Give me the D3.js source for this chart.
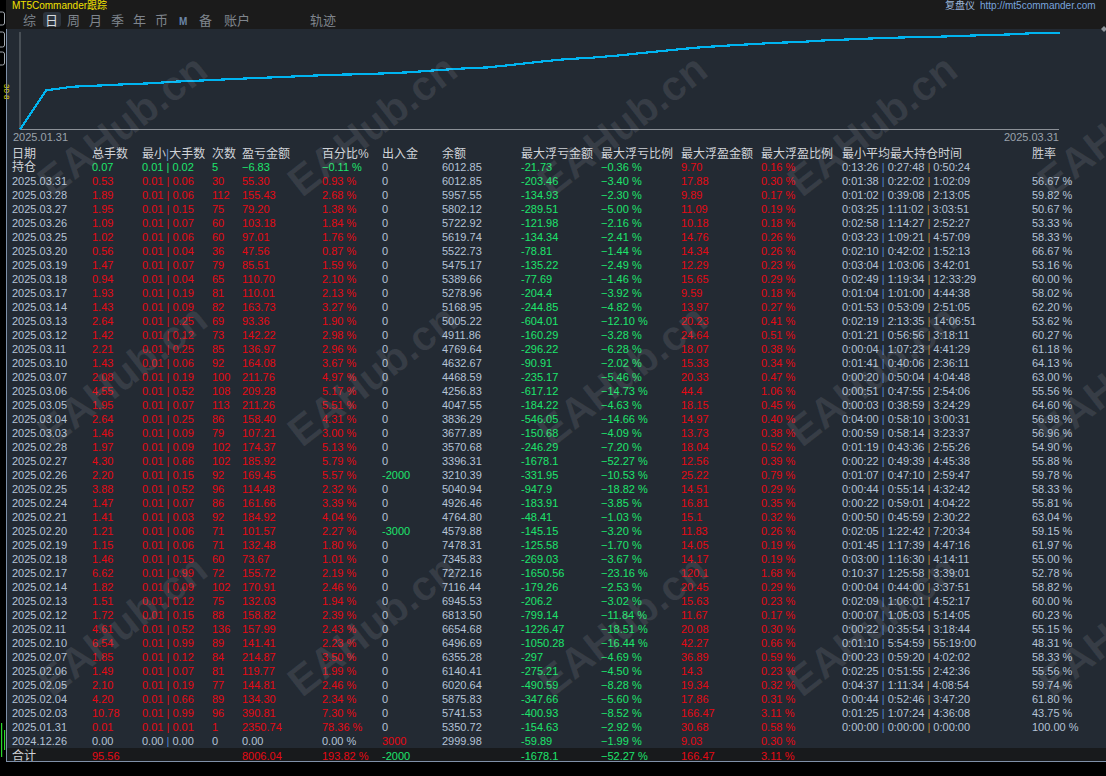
<!DOCTYPE html>
<html>
<head>
<meta charset="utf-8">
<script src="https://cdn.jsdelivr.net/npm/d3@7"></script>
<style>
  body { margin: 0; background: #000; }
  svg { display: block; }
</style>
</head>
<body>
<script>
// ===== daily rows, newest first (as shown in the table) =====
var dates = ["2025.03.31","2025.03.28","2025.03.27","2025.03.26","2025.03.25","2025.03.20","2025.03.19","2025.03.18","2025.03.17","2025.03.14",
             "2025.03.13","2025.03.12","2025.03.11","2025.03.10","2025.03.07","2025.03.06","2025.03.05","2025.03.04","2025.03.03","2025.02.28",
             "2025.02.27","2025.02.26","2025.02.25","2025.02.24","2025.02.21","2025.02.20","2025.02.19","2025.02.18","2025.02.17","2025.02.14",
             "2025.02.13","2025.02.12","2025.02.11","2025.02.10","2025.02.07","2025.02.06","2025.02.05","2025.02.04","2025.02.03","2025.01.31","2024.12.26"];
var lots = [0.53,1.89,1.95,1.09,1.02,0.56,1.47,0.94,1.93,1.43,2.64,1.42,2.21,1.43,2.08,4.55,1.95,2.64,1.46,1.97,
            4.30,2.20,3.88,1.47,1.41,1.21,1.15,1.46,6.62,1.82,1.51,1.72,4.61,6.54,1.85,1.49,2.10,4.20,10.78,0.01,0.00];
var minLot = [0.01,0.01,0.01,0.01,0.01,0.01,0.01,0.01,0.01,0.01,0.01,0.01,0.01,0.01,0.01,0.01,0.01,0.01,0.01,0.01,
              0.01,0.01,0.01,0.01,0.01,0.01,0.01,0.01,0.01,0.01,0.01,0.01,0.01,0.01,0.01,0.01,0.01,0.01,0.01,0.01,0.00];
var maxLot = [0.06,0.06,0.15,0.07,0.06,0.04,0.07,0.04,0.19,0.09,0.25,0.12,0.25,0.06,0.19,0.52,0.07,0.25,0.09,0.09,
              0.66,0.15,0.52,0.07,0.03,0.06,0.06,0.15,0.99,0.09,0.12,0.15,0.52,0.99,0.12,0.07,0.19,0.66,0.99,0.01,0.00];
var trades = [30,112,75,60,60,36,79,65,81,82,69,73,85,92,100,108,113,86,79,102,
              102,92,96,86,92,71,71,60,72,102,75,88,136,89,84,81,77,89,96,1,0];
var profit = [55.30,155.43,79.20,103.18,97.01,47.56,85.51,110.70,110.01,163.73,93.36,142.22,136.97,164.08,211.76,209.28,211.26,158.40,107.21,174.37,
              185.92,169.45,114.48,161.66,184.92,101.57,132.48,73.67,155.72,170.91,132.03,158.82,157.99,141.41,214.87,119.77,144.81,134.30,390.81,2350.74,0.00];
var pct = [0.93,2.68,1.38,1.84,1.76,0.87,1.59,2.10,2.13,3.27,1.90,2.98,2.96,3.67,4.97,5.17,5.51,4.31,3.00,5.13,
           5.79,5.57,2.32,3.39,4.04,2.27,1.80,1.01,2.19,2.46,1.94,2.39,2.43,2.23,3.50,1.99,2.46,2.34,7.30,78.36,0.00];
var flow = [0,0,0,0,0,0,0,0,0,0,0,0,0,0,0,0,0,0,0,0,
            0,-2000,0,0,0,-3000,0,0,0,0,0,0,0,0,0,0,0,0,0,0,3000];
var balance = [6012.85,5957.55,5802.12,5722.92,5619.74,5522.73,5475.17,5389.66,5278.96,5168.95,5005.22,4911.86,4769.64,4632.67,4468.59,4256.83,4047.55,3836.29,3677.89,3570.68,
               3396.31,3210.39,5040.94,4926.46,4764.80,4579.88,7478.31,7345.83,7272.16,7116.44,6945.53,6813.50,6654.68,6496.69,6355.28,6140.41,6020.64,5875.83,5741.53,5350.72,2999.98];
var maxLoss = ["-203.46","-134.93","-289.51","-121.98","-134.34","-78.81","-135.22","-77.69","-204.4","-244.85","-604.01","-160.29","-296.22","-90.91","-235.17","-617.12","-184.22","-546.05","-150.68","-246.29",
               "-1678.1","-331.95","-947.9","-183.91","-48.41","-145.15","-125.58","-269.03","-1650.56","-179.26","-206.2","-799.14","-1226.47","-1050.28","-297","-275.21","-490.59","-347.66","-400.93","-154.63","-59.89"];
var maxLossPct = [-3.40,-2.30,-5.00,-2.16,-2.41,-1.44,-2.49,-1.46,-3.92,-4.82,-12.10,-3.28,-6.28,-2.02,-5.46,-14.73,-4.63,-14.66,-4.09,-7.20,
                  -52.27,-10.53,-18.82,-3.85,-1.03,-3.20,-1.70,-3.67,-23.16,-2.53,-3.02,-11.84,-18.51,-16.44,-4.69,-4.50,-8.28,-5.60,-8.52,-2.92,-1.99];
var maxGain = ["17.88","9.89","11.09","10.18","14.76","14.34","12.29","15.65","9.59","13.97","20.23","24.64","18.07","15.33","20.33","44.4","18.15","14.97","13.73","18.04",
               "12.56","25.22","14.51","16.81","15.1","11.83","14.05","14.17","120.1","20.45","15.63","11.67","20.08","42.27","36.89","14.3","19.34","17.86","166.47","30.68","9.03"];
var maxGainPct = [0.30,0.17,0.19,0.18,0.26,0.26,0.23,0.29,0.18,0.27,0.41,0.51,0.38,0.34,0.47,1.06,0.45,0.40,0.38,0.52,
                  0.39,0.79,0.29,0.35,0.32,0.26,0.19,0.19,1.68,0.29,0.23,0.17,0.30,0.66,0.59,0.23,0.32,0.31,3.11,0.58,0.30];
var holdMin = ["0:01:38","0:01:02","0:03:25","0:02:58","0:03:23","0:02:10","0:03:04","0:02:49","0:01:04","0:01:53","0:02:19","0:01:21","0:00:04","0:01:41","0:00:20","0:00:51","0:00:03","0:04:00","0:00:59","0:01:19",
               "0:00:22","0:01:07","0:00:44","0:00:22","0:00:50","0:02:05","0:01:45","0:03:00","0:10:37","0:00:04","0:02:09","0:00:07","0:00:22","0:01:10","0:00:23","0:02:25","0:04:37","0:00:44","0:01:25","0:00:00",""];
var holdAvg = ["0:22:02","0:39:08","1:11:02","1:14:27","1:09:21","0:42:02","1:03:06","1:19:34","1:01:00","0:53:09","2:13:35","0:56:56","1:07:23","0:40:06","0:50:04","0:47:55","0:38:59","0:58:10","0:58:14","0:43:36",
               "0:49:39","0:47:10","0:55:14","0:59:01","0:45:59","1:22:42","1:17:39","1:16:30","1:25:58","0:44:00","1:06:01","1:05:03","0:35:54","5:54:59","0:59:20","0:51:55","1:11:34","0:52:46","1:07:24","0:00:00",""];
var holdMax = ["1:02:09","2:13:05","3:03:51","2:52:27","4:57:09","1:52:13","3:42:01","12:33:29","4:44:38","2:51:05","14:06:51","3:18:11","4:41:29","2:36:11","4:04:48","2:54:06","3:24:29","3:00:31","3:23:37","2:55:26",
               "4:45:38","2:59:47","4:32:42","4:04:22","2:30:22","7:20:34","4:47:16","4:14:11","3:39:01","3:37:51","4:52:17","5:14:05","3:18:44","55:19:00","4:02:02","2:42:36","4:08:54","3:47:20","4:36:08","0:00:00",""];
var winRate = [56.67,59.82,50.67,53.33,58.33,66.67,53.16,60.00,58.02,62.20,53.62,60.27,61.18,64.13,63.00,55.56,64.60,56.98,56.96,54.90,
               55.88,59.78,58.33,55.81,63.04,59.15,61.97,55.00,52.78,58.82,60.00,60.23,55.15,48.31,58.33,55.56,59.74,61.80,43.75,100.00,null];

// open positions row (持仓) and totals row (合计)
var openRow = {lots: 0.07, minLot: 0.01, maxLot: 0.02, trades: 5, profit: -6.83, pct: -0.11, flow: 0, balance: 6012.85,
               maxLoss: "-21.73", maxLossPct: -0.36, maxGain: "9.70", maxGainPct: 0.16, hold: ["0:13:26","0:27:48","0:50:24"]};
var totalRow = {lots: 95.56, profit: 8006.04, pct: 193.82, flow: -2000, maxLoss: "-1678.1", maxLossPct: -52.27, maxGain: "166.47", maxGainPct: 3.11};

var headers = ["日期","总手数","最小|大手数","次数","盈亏金额","百分比%","出入金","余额","最大浮亏金额","最大浮亏比例","最大浮盈金额","最大浮盈比例","最小平均最大持仓时间","胜率"];
var tabs = ["综","日","周","月","季","年","币","M","备","账户","轨迹"];
var axisDates = ["2025.01.31","2025.03.31"];

// ===== page =====
var W = 1106, H = 776;
var RED = "#e50914", GREEN = "#1de46c", GREY = "#b4c2d6", HEAD = "#d0d3d8";
var BAR_BLUE = "#4f86d2", BAR_ORANGE = "#bd8535";
var f2 = d3.format(".2f");

var svg = d3.select("body").append("svg")
            .attr("width", W)
            .attr("height", H)
            .attr("font-family", "'Liberation Sans', Arial, 'Noto Sans CJK SC', sans-serif");

svg.append("rect").attr("width", W).attr("height", H).attr("fill", "#000");
// top bar
svg.append("rect").attr("x", 6).attr("y", 0).attr("width", W - 6).attr("height", 29).attr("fill", "#1b1b1b");
// panel
svg.append("rect").attr("x", 7).attr("y", 29).attr("width", W - 7).attr("height", 733).attr("fill", "#232a33");

// title bits in the top bar
svg.append("text").attr("x", 12).attr("y", 9).attr("font-size", "10px").attr("fill", "#f2e200").text("MT5Commander跟踪");
svg.append("text").attr("x", 945).attr("y", 9).attr("font-size", "10px").attr("fill", "#9cb6d8").text("复盘仪");
svg.append("text").attr("x", 980).attr("y", 9).attr("font-size", "10px").attr("fill", "#78a4de").text("http://mt5commander.com");

// left strip artefacts
[[12, 13], [32, 15], [52, 13]].forEach(function(b) {
  svg.append("rect").attr("x", -3).attr("y", b[0]).attr("width", 7.5).attr("height", b[1])
     .attr("rx", 2).attr("fill", "none").attr("stroke", "#a3a9b0").attr("stroke-width", 1);
});
svg.append("text").attr("transform", "translate(4,84) rotate(90)").attr("font-size", "8px").attr("fill", "#f2e200").text("30 8");
svg.append("rect").attr("x", 1).attr("y", 723).attr("width", 1.2).attr("height", 34).attr("fill", "#2bd82b");
svg.append("rect").attr("x", 4).attr("y", 730).attr("width", 1.2).attr("height", 20).attr("fill", "#2bd82b");

// tabs
var tabX = [23, 45, 67, 89, 111, 133, 155, 179, 199, 224, 310];
svg.append("rect").attr("x", 43).attr("y", 12).attr("width", 18).attr("height", 15).attr("rx", 3).attr("fill", "#2d343d");
svg.selectAll("text.tab")
   .data(tabs)
   .enter()
   .append("text")
   .attr("class", "tab")
   .attr("x", function(d, i) { return tabX[i]; })
   .attr("y", 25)
   .attr("font-size", function(d) { return d == "M" ? "10px" : "13px"; })
   .attr("font-weight", function(d) { return d == "M" ? "bold" : "normal"; })
   .attr("fill", function(d, i) { return i == 1 ? "#d6dade" : (d == "M" ? "#6c86a8" : "#7f858d"); })
   .text(function(d) { return d; });

// ===== curve: cumulative percentage, oldest first =====
var cumPct = d3.cumsum(pct.slice().reverse());
var x = d3.scaleLinear().domain([0, cumPct.length - 1]).range([20, 1060]);
var y = d3.scaleLinear().domain([0, d3.max(cumPct)]).range([129.5, 32.7]);

svg.append("line").attr("x1", 20).attr("x2", 20).attr("y1", 32).attr("y2", 129.5)
   .attr("stroke", "#6e747b").attr("stroke-width", 1);
svg.append("line").attr("x1", 20).attr("x2", 1059).attr("y1", 129.5).attr("y2", 129.5)
   .attr("stroke", "#8b9097").attr("stroke-width", 1);

var line = d3.line()
             .x(function(d, i) { return x(i); })
             .y(function(d) { return y(d); });

svg.append("path")
   .datum(cumPct)
   .attr("d", line)
   .attr("fill", "none")
   .attr("stroke", "#00b4f0")
   .attr("stroke-width", 2.2)
   .attr("shape-rendering", "crispEdges");

svg.append("text").attr("x", 13).attr("y", 141).attr("font-size", "11px").attr("fill", "#9aa2ab").text(axisDates[0]);
svg.append("text").attr("x", 1059).attr("y", 141).attr("text-anchor", "end").attr("font-size", "11px").attr("fill", "#9aa2ab").text(axisDates[1]);
svg.append("path").attr("d", "M1101,29 L1104,26 L1107,29 L1104,32 Z").attr("fill", "#8d939a");

// ===== table =====
var colX = [12, 92, 142, 212, 242, 322, 382, 442, 521, 601, 681, 761, 842, 1032];
var rowY = d3.scaleLinear().domain([0, dates.length - 1]).range([181.3, 741.3]);
var headY = 154, openY = 167.3, totalY = 756;

// totals band
svg.append("rect").attr("x", 7).attr("y", 748).attr("width", W - 7).attr("height", 13.5).attr("fill", "#181a1c");

function cell(col, cy, segs, size) {
  var t = svg.append("text")
             .attr("x", colX[col])
             .attr("y", cy + 4)
             .attr("font-size", size || "11px");
  segs.forEach(function(s) {
    t.append("tspan").attr("fill", s[1]).text(s[0]);
  });
}

function sep(a, b, c, barColor) {
  return [[a + " ", c], ["|", barColor], [" " + b, c]];
}

function times(h) {
  return [[h[0] + " ", GREY], ["|", BAR_BLUE], [" " + h[1] + " ", GREY], ["|", BAR_ORANGE], [" " + h[2], GREY]];
}

function flowColor(v) { return v < 0 ? GREEN : (v > 0 ? RED : GREY); }

// header
headers.forEach(function(h, i) {
  if (h.indexOf("|") >= 0) {
    var parts = h.split("|");
    cell(i, headY, [[parts[0], HEAD], ["|", "#5f93d8"], [parts[1], HEAD]], "12px");
  } else {
    cell(i, headY, [[h, HEAD]], "12px");
  }
});

// open positions
(function() {
  var o = openRow, c = o.profit < 0 ? GREEN : RED;
  cell(0, openY, [["持仓", HEAD]], "12px");
  cell(1, openY, [[f2(o.lots), c]]);
  cell(2, openY, sep(f2(o.minLot), f2(o.maxLot), c, c));
  cell(3, openY, [[String(o.trades), c]]);
  cell(4, openY, [[f2(o.profit), c]]);
  cell(5, openY, [[f2(o.pct) + " %", c]]);
  cell(6, openY, [[String(o.flow), flowColor(o.flow)]]);
  cell(7, openY, [[f2(o.balance), GREY]]);
  cell(8, openY, [[o.maxLoss, GREEN]]);
  cell(9, openY, [[f2(o.maxLossPct) + " %", GREEN]]);
  cell(10, openY, [[o.maxGain, RED]]);
  cell(11, openY, [[f2(o.maxGainPct) + " %", RED]]);
  cell(12, openY, times(o.hold));
})();

// daily rows
dates.forEach(function(d, i) {
  var cy = rowY(i);
  var c = profit[i] > 0 ? RED : (profit[i] < 0 ? GREEN : GREY);
  cell(0, cy, [[d, GREY]]);
  cell(1, cy, [[f2(lots[i]), c]]);
  cell(2, cy, sep(f2(minLot[i]), f2(maxLot[i]), c, c == GREY ? BAR_BLUE : c));
  cell(3, cy, [[String(trades[i]), c]]);
  cell(4, cy, [[f2(profit[i]), c]]);
  cell(5, cy, [[f2(pct[i]) + " %", c]]);
  cell(6, cy, [[String(flow[i]), flowColor(flow[i])]]);
  cell(7, cy, [[f2(balance[i]), GREY]]);
  cell(8, cy, [[maxLoss[i], GREEN]]);
  cell(9, cy, [[f2(maxLossPct[i]) + " %", GREEN]]);
  cell(10, cy, [[maxGain[i], RED]]);
  cell(11, cy, [[f2(maxGainPct[i]) + " %", RED]]);
  if (holdMin[i]) cell(12, cy, times([holdMin[i], holdAvg[i], holdMax[i]]));
  if (winRate[i] != null) cell(13, cy, [[f2(winRate[i]) + " %", GREY]]);
});

// totals
cell(0, totalY, [["合计", HEAD]], "12px");
cell(1, totalY, [[f2(totalRow.lots), RED]]);
cell(4, totalY, [[f2(totalRow.profit), RED]]);
cell(5, totalY, [[f2(totalRow.pct) + " %", RED]]);
cell(6, totalY, [[String(totalRow.flow), flowColor(totalRow.flow)]]);
cell(8, totalY, [[totalRow.maxLoss, GREEN]]);
cell(9, totalY, [[f2(totalRow.maxLossPct) + " %", GREEN]]);
cell(10, totalY, [[totalRow.maxGain, RED]]);
cell(11, totalY, [[f2(totalRow.maxGainPct) + " %", RED]]);

// panel border
svg.append("line").attr("x1", 6.5).attr("x2", 6.5).attr("y1", 29).attr("y2", 762)
   .attr("stroke", "#7f90a8").attr("stroke-width", 1);
svg.append("line").attr("x1", 6).attr("x2", W).attr("y1", 761.5).attr("y2", 761.5)
   .attr("stroke", "#7f90a8").attr("stroke-width", 1);

// watermark
var markX = [122, 372, 622, 872, 1122], markY = [125, 375, 625];
markY.forEach(function(my) {
  markX.forEach(function(mx) {
    svg.append("text")
       .attr("transform", "translate(" + mx + "," + my + ") rotate(-38)")
       .attr("text-anchor", "middle")
       .attr("dy", "0.35em")
       .attr("font-size", "42px")
       .attr("font-weight", "bold")
       .attr("fill", "#ffffff")
       .attr("fill-opacity", 0.09)
       .text("EAHub.cn");
  });
});
</script>
</body>
</html>
